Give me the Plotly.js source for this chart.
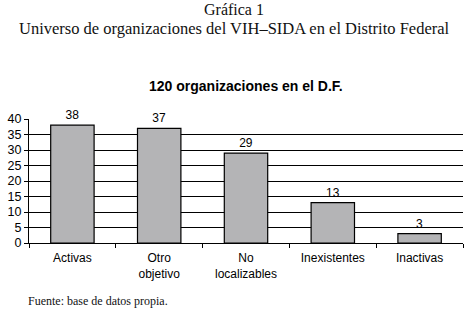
<!DOCTYPE html>
<html><head><meta charset="utf-8">
<script src="https://cdn.plot.ly/plotly-3.0.1.min.js"></script>
<style>html,body{margin:0;padding:0;background:#fff}#chart{width:468px;height:312px}</style>
</head><body><div id="chart"></div>
<script>
const categories = ["Activas", "Otro<br>objetivo", "No<br>localizables", "Inexistentes", "Inactivas"];
const values = [38, 37, 29, 13, 3];
const yTicks = [0, 5, 10, 15, 20, 25, 30, 35, 40];
const headerLine1 = "Gráfica 1";
const headerLine2 = "Universo de organizaciones del VIH–SIDA en el Distrito Federal";
const chartTitle = "<b>120 organizaciones en el D.F.</b>";
const source = "Fuente: base de datos propia.";

const serif = "Liberation Serif, DejaVu Serif, serif";
const sans = "Liberation Sans, Arial, sans-serif";
const H = 312 - 119 - 69;
const py = px => (312 - 69 - px) / H;
const pxX = px => (px - 29) / 434;

Plotly.newPlot("chart", [{
  type: "bar",
  x: categories,
  y: values,
  text: values.map(String),
  textposition: "outside",
  cliponaxis: false,
  textfont: {family: sans, size: 12, color: "#000"},
  marker: {color: "#b4b4b6", line: {color: "#000", width: 1.2}},
  hoverinfo: "none"
}], {
  width: 468, height: 312,
  margin: {l: 29, r: 5, t: 119, b: 69},
  paper_bgcolor: "#fff", plot_bgcolor: "#fff",
  bargap: 0.5,
  showlegend: false,
  xaxis: {
    type: "category",
    tickson: "boundaries",
    ticks: "outside", ticklen: 4, tickcolor: "#000", tickwidth: 1,
    ticklabelstandoff: 4,
    showgrid: false,
    showline: true, linecolor: "#000", linewidth: 1,
    tickfont: {family: sans, size: 12, color: "#000"},
    fixedrange: true
  },
  yaxis: {
    range: [0, 40],
    tickvals: yTicks,
    ticks: "outside", ticklen: 4, tickcolor: "#000",
    showgrid: true, gridcolor: "#000", gridwidth: 1,
    showline: true, linecolor: "#000", linewidth: 1,
    zeroline: true, zerolinecolor: "#000",
    tickfont: {family: sans, size: 12.5, color: "#000"},
    fixedrange: true
  },
  annotations: [
    {text: headerLine1, xref: "paper", x: pxX(234), xanchor: "center", yanchor: "middle", showarrow: false,
     font: {family: serif, size: 16, color: "#111"}, yref: "paper", y: py(10)},
    {text: headerLine2, xref: "paper", x: pxX(234), xanchor: "center", yanchor: "middle", showarrow: false,
     font: {family: serif, size: 16.5, color: "#111"}, yref: "paper", y: py(28)},
    {text: chartTitle, xref: "paper", x: 0.5, xanchor: "center", yanchor: "middle", showarrow: false,
     font: {family: sans, size: 14, color: "#000"}, yref: "paper", y: py(86)},
    {text: source, xref: "paper", x: pxX(26), xanchor: "left", yanchor: "middle", showarrow: false,
     font: {family: serif, size: 12, color: "#111"}, yref: "paper", y: py(301)}
  ]
}, {displayModeBar: false, staticPlot: true});
</script></body></html>
